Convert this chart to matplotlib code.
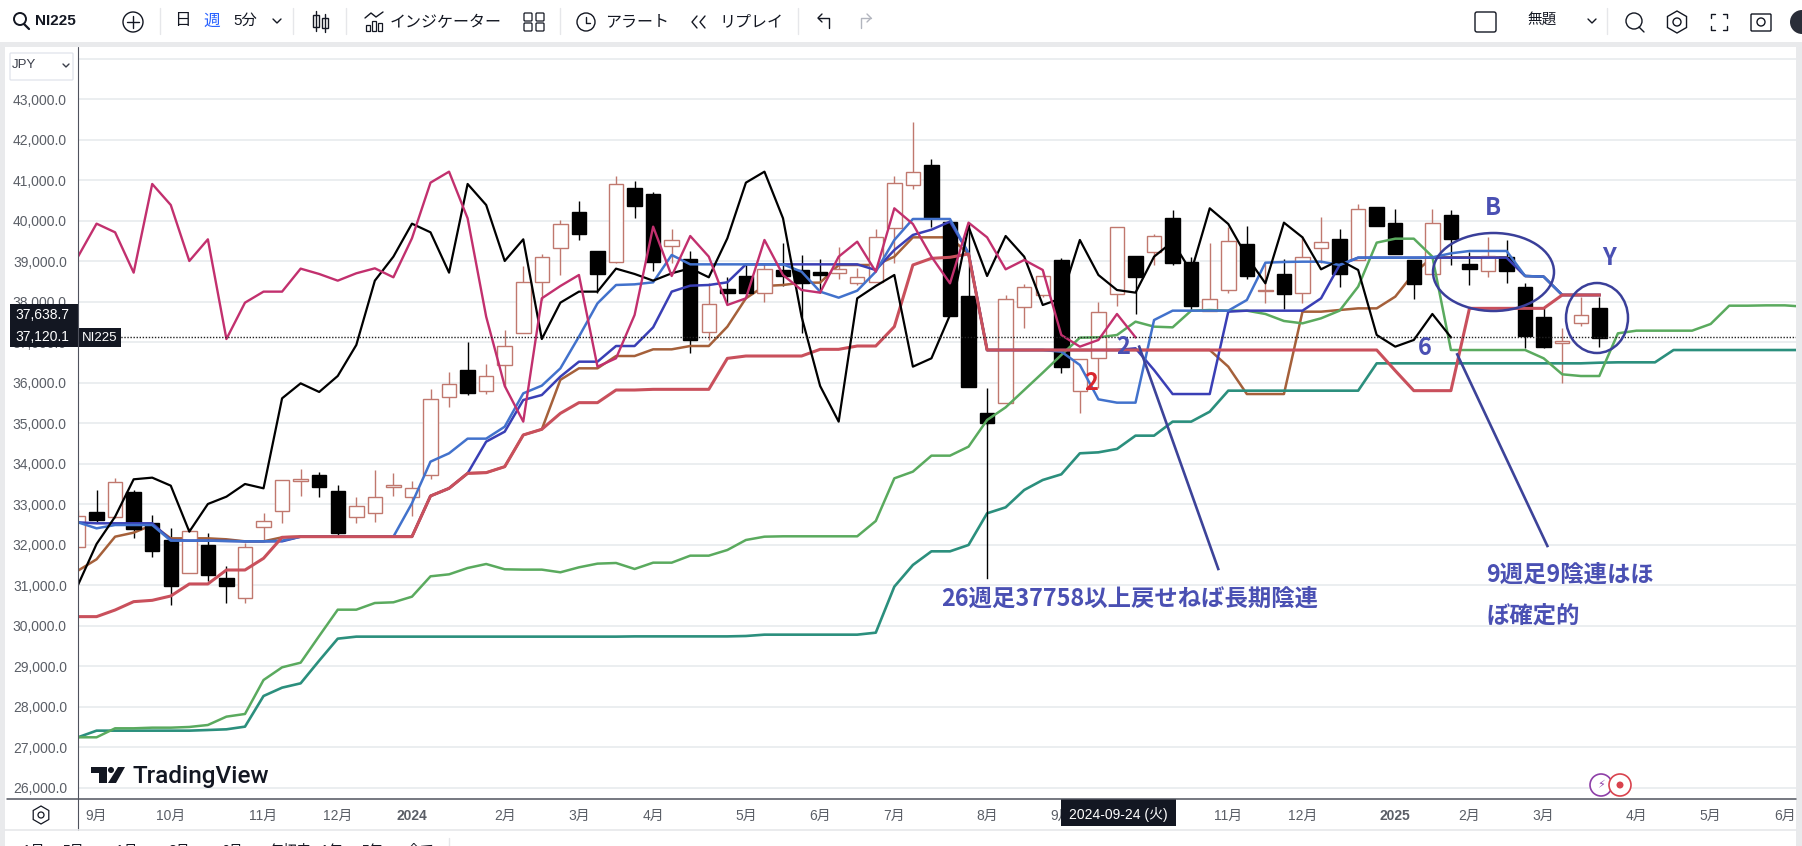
import matplotlib
matplotlib.use("Agg")
import matplotlib.pyplot as plt
from matplotlib.patches import Ellipse, Rectangle, Circle, RegularPolygon, Polygon, FancyBboxPatch

plt.rcParams['font.family'] = ['Liberation Sans', 'Noto Sans CJK JP', 'DejaVu Sans']

W, H = 1802, 846

# weekly candles, one row per week
opens = [31935, 32800, 32692, 33300, 32528, 32116, 31309, 31993, 31169, 30675,
         32445, 32824, 33565, 33713, 33318, 32676, 32775, 33417, 33186, 33713,
         35640, 36315, 35804, 36430, 37237, 38480, 39320, 40217, 39246, 38974,
         40802, 40662, 39386, 39056, 37245, 38315, 38636, 38208, 38785, 38785,
         38727, 38703, 38456, 38497, 39830, 40876, 41378, 39962, 38143, 35245,
         35490, 37863, 38167, 39032, 35804, 36603, 38183, 39122, 39238, 40069,
         38982, 37780, 38283, 39427, 38270, 38686, 38225, 39336, 39550, 39032,
         40333, 39937, 39032, 38678, 40135, 38933, 38752, 39106, 38357, 37616,
         36973, 37467, 37838]
closes = [32717, 32610, 33540, 32396, 31853, 30988, 32330, 31260, 30988, 31950,
          32577, 33590, 33631, 33433, 32297, 32964, 33170, 33466, 33392, 35598,
          35960, 35755, 36158, 36899, 38480, 39098, 39913, 39682, 38686, 40900,
          40374, 38990, 39517, 37064, 37937, 38225, 38225, 38801, 38645, 38472,
          38670, 38818, 38604, 39592, 40925, 41196, 40061, 37657, 35903, 35014,
          38060, 38357, 38645, 36397, 36578, 37740, 39839, 38620, 39616, 38950,
          37904, 38060, 39493, 38645, 38290, 38200, 39098, 39468, 38686, 40283,
          39880, 39188, 38447, 39937, 39550, 38801, 39139, 38768, 37163, 36891,
          37039, 37681, 37113]
highs = [32857, 33351, 33640, 33350, 32734, 32404, 32400, 32280, 31474, 32034,
         32775, 33600, 33862, 33804, 33475, 33170, 33845, 33763, 33573, 35837,
         36257, 36998, 36463, 37303, 38883, 39180, 40020, 40489, 39246, 41106,
         40983, 40711, 39806, 39262, 38455, 38604, 38908, 38950, 39460, 39155,
         39048, 39361, 38826, 39789, 41106, 42440, 41518, 39962, 39954, 35862,
         38167, 38440, 38750, 39073, 36578, 37986, 39839, 39122, 39666, 40267,
         39114, 39443, 39855, 39872, 38950, 39048, 39624, 40086, 39797, 40407,
         40333, 40283, 39032, 40283, 40267, 39238, 39591, 39526, 38472, 37838,
         37344, 38126, 38126]
lows = [31935, 32570, 32650, 32174, 31700, 30510, 31309, 31100, 30568, 30568,
        32116, 32528, 33203, 33186, 32240, 32544, 32569, 33203, 32709, 33615,
        35393, 35697, 35722, 35903, 37220, 38044, 38660, 39526, 38209, 38950,
        40069, 38768, 38950, 36743, 37055, 37962, 38225, 38003, 38398, 37230,
        38208, 38570, 38414, 38497, 38950, 40793, 39838, 37657, 35903, 34950,
        35490, 37344, 38126, 36249, 35261, 35862, 37895, 37697, 38900, 38908,
        37797, 37780, 38208, 38563, 37962, 37813, 37978, 38950, 38373, 39032,
        39880, 39188, 38069, 38678, 38908, 38414, 38620, 38472, 36867, 36850,
        36002, 37410, 36891]

black_line = [31005, 32017, 32692, 33615, 33656, 33458, 32322, 33005, 33186, 33499,
              33392, 35615, 35985, 35772, 36167, 36932, 38521, 39114, 39929, 39715,
              38719, 40909, 40390, 39007, 39542, 37080, 37978, 38250, 38250, 38818,
              38686, 38521, 38703, 38826, 38604, 39567, 40942, 41213, 40061, 37632,
              35920, 35039, 38085, 38389, 38661, 36397, 36603, 37673, 39855, 38636,
              39624, 39114, 37920, 38085, 39526, 38661, 38290, 38225, 39114, 39484,
              38743, 40308, 39921, 39114, 38455, 39954, 39591, 38801, 39032, 38785,
              37179, 36891, 37056, 37698, 37122]
pink_line = [39114, 39929, 39715, 38719, 40909, 40390, 39007, 39542, 37080, 37978,
             38250, 38250, 38818, 38686, 38521, 38703, 38826, 38604, 39567, 40942,
             41213, 40061, 37632, 35920, 35039, 38085, 38389, 38661, 36397, 36603,
             37673, 39855, 38636, 39624, 39114, 37920, 38085, 39526, 38661, 38290,
             38225, 39114, 39484, 38743, 40308, 39921, 39114, 38455, 39954, 39591,
             38801, 39032, 38785, 37179, 36891, 37056, 37698, 37122]
light_blue = [32552, 32404, 32486, 32486, 32486, 32100, 32100, 32100, 32092, 32083,
              32083, 32100, 32198, 32198, 32198, 32198, 32198, 32198, 33022, 34051,
              34257, 34619, 34619, 34915, 35738, 35928, 36355, 37138, 37961, 38414,
              38430, 38480, 39155, 38924, 38924, 38924, 38924, 38924, 38924, 38743,
              38250, 38101, 38274, 38743, 39525, 40044, 40044, 40044, 39196, 36808,
              36808, 36808, 36808, 36767, 36438, 35590, 35508, 35508, 37549, 37780,
              37780, 37780, 37780, 38043, 38965, 38982, 38990, 38990, 38908, 39089,
              39089, 39089, 39089, 39097, 39196, 39254, 39254, 39254, 38636, 38620,
              38167, 38167, 38167]
dark_blue = [32552, 32528, 32528, 32528, 32528, 32116, 32100, 32100, 32092, 32083,
             32083, 32083, 32198, 32198, 32198, 32198, 32198, 32198, 32198, 33203,
             33392, 33763, 34545, 34792, 35574, 35697, 36150, 36520, 36520, 36907,
             36907, 37368, 38250, 38397, 38414, 38480, 38924, 38924, 38924, 38924,
             38924, 38924, 38924, 38784, 39278, 39650, 39780, 39980, 39196, 36808,
             36808, 36808, 36808, 36808, 36808, 36808, 36808, 36850, 36314, 35721,
             35721, 35721, 37755, 37780, 37780, 37780, 37780, 38085, 38908, 39089,
             39089, 39089, 39089, 39089, 39089, 39089, 39089, 39089, 38636, 38620,
             38167, 38167, 38167]
brown_line = [31359, 31639, 32198, 32297, 32486, 32157, 32157, 32157, 32133, 32083,
              32083, 32182, 32198, 32198, 32198, 32198, 32198, 32198, 32198, 33203,
              33392, 33763, 33779, 33927, 34710, 34850, 36072, 36356, 36356, 36660,
              36660, 36825, 36825, 36907, 36907, 37385, 38085, 38389, 38414, 38472,
              38472, 38908, 38908, 38908, 39113, 39591, 39591, 39591, 39180, 36808,
              36808, 36808, 36808, 36808, 36808, 36808, 36808, 36808, 36808, 36808,
              36808, 36808, 36397, 35721, 35721, 35721, 37755, 37755, 37796, 37837,
              37837, 38126, 38702, 39097, 39097, 39097, 39097, 39097, 38636, 38620,
              38167, 38167, 38167]
red_line = [30223, 30223, 30387, 30593, 30626, 30733, 31030, 31030, 31375, 31375,
            31663, 32182, 32198, 32198, 32198, 32198, 32198, 32198, 32198, 33203,
            33392, 33763, 33779, 33927, 34710, 34850, 35244, 35508, 35508, 35820,
            35820, 35837, 35837, 35837, 35837, 36602, 36660, 36660, 36660, 36660,
            36825, 36825, 36907, 36907, 37385, 38908, 39072, 39098, 39180, 36808,
            36808, 36808, 36808, 36808, 36808, 36808, 36808, 36808, 36808, 36808,
            36808, 36808, 36808, 36808, 36808, 36808, 36808, 36808, 36808, 36808,
            36808, 36298, 35804, 35804, 35804, 37837, 37837, 37837, 37837, 37837,
            38167, 38167, 38167]
green_line = [27243, 27243, 27465, 27465, 27481, 27481, 27498, 27547, 27753, 27819,
              28658, 28971, 29086, 29745, 30395, 30395, 30560, 30577, 30716, 31219,
              31268, 31424, 31523, 31392, 31384, 31384, 31318, 31441, 31532, 31548,
              31400, 31556, 31556, 31729, 31729, 31869, 32116, 32198, 32207, 32207,
              32207, 32207, 32207, 32585, 33639, 33804, 34199, 34199, 34421, 35080,
              35392, 35820, 36248, 36685, 37113, 37121, 37179, 37508, 37385, 37368,
              37780, 37796, 37780, 37780, 37698, 37525, 37467, 37591, 37780, 38373,
              39460, 39558, 39558, 39114, 36808, 36808, 36808, 36808, 36808, 36603,
              36208, 36166, 36166, 37220, 37286, 37286, 37286, 37286, 37451, 37903,
              37903, 37911, 37911, 37880]
teal_line = [27243, 27407, 27407, 27407, 27407, 27407, 27407, 27423, 27440, 27506,
             28263, 28469, 28576, 29136, 29679, 29729, 29729, 29729, 29729, 29729,
             29729, 29729, 29729, 29729, 29729, 29729, 29729, 29729, 29729, 29729,
             29735, 29735, 29735, 29735, 29735, 29735, 29745, 29778, 29778, 29778,
             29778, 29778, 29778, 29827, 30964, 31499, 31836, 31836, 31993, 32775,
             32923, 33351, 33598, 33738, 34257, 34281, 34364, 34693, 34693, 35039,
             35039, 35285, 35804, 35804, 35804, 35804, 35804, 35804, 35804, 35804,
             36479, 36479, 36479, 36479, 36479, 36479, 36479, 36479, 36479, 36479,
             36479, 36479, 36495, 36504, 36504, 36504, 36808, 36808, 36808, 36808,
             36808, 36808, 36808, 36808]

price_ticks = [26000, 27000, 28000, 29000, 30000, 31000, 32000, 33000, 34000, 35000,
               36000, 37000, 38000, 39000, 40000, 41000, 42000, 43000, 44000]
month_pos = [1, 5, 10, 14, 18, 23, 27, 31, 36, 40, 44, 49, 53, 62, 66, 71, 75, 79, 84, 88, 92]
month_labels = ['9月', '10月', '11月', '12月', '2024', '2月', '3月', '4月', '5月', '6月', '7月',
                '8月', '9月', '11月', '12月', '2025', '2月', '3月', '4月', '5月', '6月']

# hand drawn lines on the chart (week, price)
note1_x, note1_y = [57.2, 61.46], [36891, 31400]
note2_x, note2_y = [74.34, 79.2], [36701, 31968]
note3_x, note3_y = [49, 49], [35000, 31186]

last_price = 37120.1
prev_price = 37638.7

fig = plt.figure(figsize=(W / 100, H / 100), dpi=100, facecolor='white')

# main pane, x is the week number
ax = fig.add_axes([78 / W, 1 - 799 / H, (1796 - 78) / W, (799 - 47) / H])
ax.set_xlim(0, 92.6)
ax.set_ylim(25719, 44292)
for s in ax.spines.values():
    s.set_visible(False)

ax.set_yticks(price_ticks)
ax.set_yticklabels([f'{p:,.1f}' if p < 44000 else '' for p in price_ticks], color='#5a5e66', fontsize=10)
ax.set_xticks(month_pos)
ax.set_xticklabels(month_labels, color='#5a5e66', fontsize=10)
for lab, txt in zip(ax.get_xticklabels(), month_labels):
    if txt in ('2024', '2025'):
        lab.set_fontweight('bold')
ax.tick_params(axis='y', length=0, pad=8)
ax.tick_params(axis='x', length=0, pad=7)
ax.grid(axis='y', color='#e6e9ec', lw=1.1)
ax.set_axisbelow(True)

# candles
for i in range(len(opens)):
    o, c, h, l = opens[i], closes[i], highs[i], lows[i]
    up = c >= o
    col = '#c0786e' if up else '#000000'
    ax.vlines(i, l, h, color=col, lw=1.0, zorder=2)
    ax.bar(i, abs(c - o), bottom=min(o, c), width=0.78,
           facecolor='white' if up else 'black', edgecolor=col, lw=1.0, zorder=3)

# indicators, brown sits behind the candle bodies
ax.plot(teal_line, color='#2b8f7d', lw=1.9, zorder=4)
ax.plot(green_line, color='#5aaa5e', lw=1.8, zorder=4)
ax.plot(brown_line, color='#a5603a', lw=1.8, zorder=2.5)
ax.plot(dark_blue, color='#3a3fb5', lw=1.8, zorder=4)
ax.plot(light_blue, color='#4272cc', lw=1.8, zorder=4)
ax.plot(red_line, color='#c9505c', lw=2.2, zorder=4)
ax.plot(black_line, color='black', lw=1.6, zorder=5)
ax.plot(pink_line, color='#c2306e', lw=1.7, zorder=5)

ax.axhline(last_price, color='#222222', lw=1.0, ls=(0, (1, 1.2)), zorder=5)

ax.plot(note1_x, note1_y, color='#3d4399', lw=1.9, zorder=6)
ax.plot(note2_x, note2_y, color='#3d4399', lw=1.9, zorder=6)
ax.plot(note3_x, note3_y, color='black', lw=1.0, zorder=6)

# everything around the chart, in screen pixels
ov = fig.add_axes([0, 0, 1, 1], facecolor='none')
ov.set_xlim(0, W)
ov.set_ylim(H, 0)
ov.axis('off')


def label(x, y, s, size=11, color='#131722', weight='normal', ha='center', **kw):
    ov.text(x, y, s, fontsize=size, color=color, fontweight=weight, ha=ha, va='center', **kw)


def line(xs, ys, color='#131722', lw=1.0):
    ov.plot(xs, ys, color=color, lw=lw, solid_capstyle='round')


# page background bands
ov.add_patch(Rectangle((0, 42), W, 5, color='#e9eaec', lw=0))
ov.add_patch(Rectangle((0, 42), 5, H, color='#e9eaec', lw=0))
ov.add_patch(Rectangle((1796, 42), 6, H, color='#e9eaec', lw=0))
line([7, 1796], [799, 799], '#50535e', 1.1)
line([78, 78], [47, 830], '#50535e', 0.8)
line([5, 1796], [830, 830], '#e6e7ea', 1.2)

# toolbar
ov.add_patch(Circle((20, 19), 6, fill=False, ec='#131722', lw=1.4))
line([24, 29], [24, 29], lw=1.6)
label(55, 21, 'NI225', 11, weight='bold')
ov.add_patch(Circle((133, 22), 10, fill=False, ec='#131722', lw=1.0))
line([127, 139], [22, 22]); line([133, 133], [16, 28])
for sx in (160, 293, 346, 560, 798, 1607):
    line([sx, sx], [8, 34], '#e6e7ea', 1.0)
label(182, 21, '日', 12)
label(212, 21, '週', 12, color='#2962ff')
label(245, 21, '5分', 11)
line([273, 277, 281], [19, 23, 19], lw=1.0)
for cx, y0, y1 in ((316, 15, 27), (325, 18, 28)):
    ov.add_patch(Rectangle((cx - 3, y0), 6, y1 - y0, fill=False, ec='#131722', lw=1.0))
    line([cx, cx], [y0 - 4, y1 + 4])
for bx, by in ((366, 25), (372, 21), (378, 23)):
    ov.add_patch(Rectangle((bx, by), 4, 31 - by, fill=False, ec='#131722', lw=0.9))
line([365, 371, 376, 383], [18, 13, 17, 12])
label(446, 22, 'インジケーター', 11.5)
for gx in (528, 540):
    for gy in (17, 27):
        ov.add_patch(FancyBboxPatch((gx - 3, gy - 3), 6, 6, boxstyle='round,pad=1', fill=False, ec='#131722', lw=0.9))
ov.add_patch(Circle((586, 22), 9, fill=False, ec='#131722', lw=1.0))
line([586, 586, 590], [17, 23, 23])
label(637, 22, 'アラート', 11.5)
line([697, 692, 697], [16, 22, 28]); line([705, 700, 705], [16, 22, 28])
label(751, 22, 'リプレイ', 11.5)
line([818, 829, 829], [18, 18, 28]); line([822, 818, 822], [14, 18, 22])
line([871, 861, 861], [18, 18, 28], '#b2b5be'); line([867, 871, 867], [14, 18, 22], '#b2b5be')
ov.add_patch(FancyBboxPatch((1477, 14), 17, 16, boxstyle='round,pad=2', fill=False, ec='#131722', lw=1.0))
label(1542, 21, '無題', 10.5)
line([1588, 1592, 1596], [19, 23, 19])
ov.add_patch(Circle((1634, 21), 8, fill=False, ec='#131722', lw=1.0))
line([1639, 1644], [27, 32])
ov.add_patch(RegularPolygon((1677, 22), 6, radius=11, fill=False, ec='#131722', lw=1.0))
ov.add_patch(Circle((1677, 22), 4, fill=False, ec='#131722', lw=1.0))
for bx, sx in ((1711, 1), (1727, -1)):
    line([bx + 4 * sx, bx, bx], [14, 14, 18]); line([bx, bx, bx + 4 * sx], [26, 30, 30])
ov.add_patch(FancyBboxPatch((1752, 15), 18, 15, boxstyle='round,pad=1', fill=False, ec='#131722', lw=1.0))
ov.add_patch(Circle((1761, 22), 4, fill=False, ec='#131722', lw=1.0))
ov.add_patch(Circle((1802, 22), 12, color='#2a2e39', lw=0))

# currency box
ov.add_patch(FancyBboxPatch((11, 54), 61, 25, boxstyle='round,pad=1', fc='white', ec='#e0e3eb', lw=0.9))
label(24, 65, 'JPY', 9.5, color='#3a3e4a')
line([63, 66, 69], [64, 67, 64], '#3a3e4a')

# price boxes
ov.add_patch(Rectangle((10, 304), 68, 24, color='#131722', lw=0))
ov.add_patch(Rectangle((10, 328), 111, 19, color='#131722', lw=0))
label(42, 315, f'{prev_price:,.1f}', 10, color='white')
label(42, 337, f'{last_price:,.1f}', 10, color='white')
label(100, 338, 'NI225', 9.5, color='white')

# crosshair date
ov.add_patch(Rectangle((1061, 799), 115, 27, color='#131722', lw=0))
label(1118, 815, '2024-09-24 (火)', 10, color='white')

# hexagon below the axis
ov.add_patch(RegularPolygon((41, 815), 6, radius=9, fill=False, ec='#131722', lw=0.9))
ov.add_patch(Circle((41, 815), 3, fill=False, ec='#131722', lw=0.9))

# range buttons, cut by the bottom edge
for bx, s in ((34, '1日'), (73, '5日'), (127, '1月'), (179, '3月'), (232, '6月'), (290, '年初来'),
              (332, '1年'), (372, '5年'), (420, '全て')):
    label(bx, 851, s, 10, color='#131722')
line([449, 449], [838, 846], '#e6e7ea')

# TradingView logo
ov.add_patch(Polygon([(91, 767), (107, 767), (107, 783), (99, 783), (99, 773), (91, 773)], color='#131722', lw=0))
ov.add_patch(Circle((111, 770), 3, color='#131722', lw=0))
ov.add_patch(Polygon([(118, 767), (125, 767), (116, 783), (108, 783)], color='#131722', lw=0))
label(201, 776, 'TradingView', 17.5, weight='medium', family=['Roboto'])

# small event icons
ov.add_patch(Circle((1601, 785), 11, fc='white', ec='#8e3fa8', lw=1.2))
label(1601, 785, '⚡', 8, color='#8e3fa8', family=['DejaVu Sans'])
ov.add_patch(Circle((1620, 785), 11, fc='white', ec='#d9434e', lw=1.2))
ov.add_patch(Circle((1620, 785), 3.5, color='#d9434e', lw=0))

# notes written on the chart
note_col = '#4a50b3'
cjk_bold = ['Noto Sans CJK JP', 'DejaVu Sans']
ov.text(941, 599, '26週足37758以上戻せねば長期陰連', fontsize=16.8, color=note_col, fontweight='bold',
        ha='left', va='center', family=cjk_bold)
ov.text(1486, 575, '9週足9陰連はほ', fontsize=16.8, color=note_col, fontweight='bold', ha='left', va='center', family=cjk_bold)
ov.text(1486, 617, 'ぼ確定的', fontsize=16.8, color=note_col, fontweight='bold', ha='left', va='center', family=cjk_bold)
ov.text(1493, 208, 'B', fontsize=17, color=note_col, fontweight='bold', ha='center', va='center', family=cjk_bold)
ov.text(1609, 258, 'Y', fontsize=17, color=note_col, fontweight='bold', ha='center', va='center', family=cjk_bold)
ov.text(1123, 347, '2', fontsize=17, color=note_col, fontweight='bold', ha='center', va='center', family=cjk_bold)
ov.text(1425, 348, '6', fontsize=17, color=note_col, fontweight='bold', ha='center', va='center', family=cjk_bold)
ov.text(1091, 383, '2', fontsize=17, color='#d8262e', fontweight='bold', ha='center', va='center', family=cjk_bold)

ov.add_patch(Ellipse((1493.5, 272), 121, 78, fill=False, ec='#3a3f9a', lw=1.8))
ov.add_patch(Ellipse((1597, 318), 62, 70, fill=False, ec='#3a3f9a', lw=1.8))

fig.savefig('out.png', dpi=100)
